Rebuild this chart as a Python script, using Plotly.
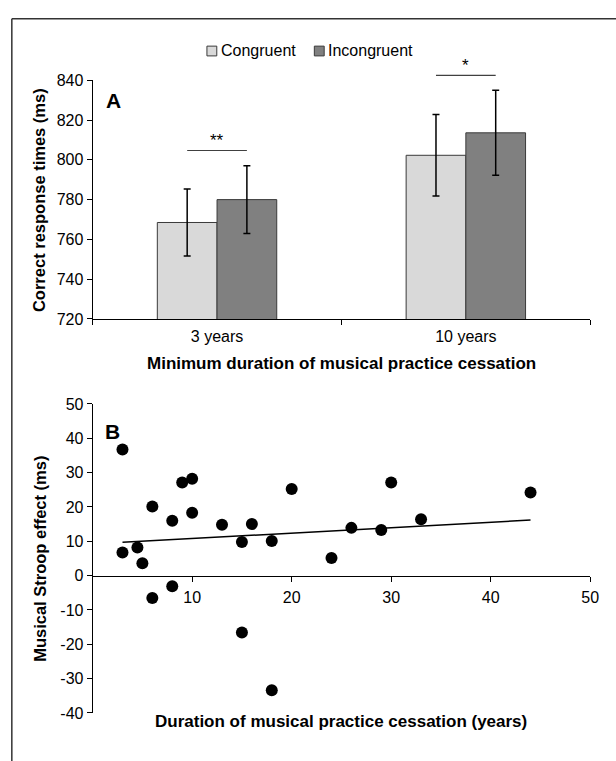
import numpy as np
import plotly.graph_objects as go

# ---------------- Panel A data ----------------
categories = ["3 years", "10 years"]
series_names = ["Congruent", "Incongruent"]
congruent = [768.5, 802.3]
congruent_err = [16.8, 20.5]
incongruent = [780.0, 813.6]
incongruent_err = [17.0, 21.4]
sig_labels = ["**", "*"]
sig_line_values = [804.7, 842.5]
sig_text_values = [809.8, 847.6]
a_yticks = [720, 740, 760, 780, 800, 820, 840]

# ---------------- Panel B data ----------------
years = [3, 3, 4.5, 5, 6, 6, 8, 8, 9, 10, 10, 13, 15, 15, 16, 18, 18, 20, 24, 26, 29, 30, 33, 44]
stroop = [36.7, 6.7, 8.2, 3.6, 20.1, -6.5, 16.0, -3.1, 27.1, 28.2, 18.3, 14.8, 9.8, -16.6,
          15.0, 10.1, -33.4, 25.2, 5.1, 13.9, 13.3, 27.1, 16.4, 24.2]
b_yticks = [-40, -30, -20, -10, 0, 10, 20, 30, 40, 50]
b_yticktext = ["-40", "-30", "-20", "-10", "0", "10", "20", "30", "40", "50"]
b_xticks = [10, 20, 30, 40, 50]

FONT = "Liberation Sans, Arial, sans-serif"
CONG_COLOR = "#d9d9d9"
INCONG_COLOR = "#808080"
EDGE = "#3a3a3a"

FW, FH = 616, 761


def px(p):
    return p / FW


def py(p):
    return 1 - p / FH


x_dom = [px(94), px(599)]
a_dom = [py(318), py(74)]
b_dom = [py(721), py(405)]
A_RANGE = [720, 840]
B_RANGE = [-40, 50]
BARGAP = 0.52


def a_to_paper(v):
    return a_dom[0] + (v - A_RANGE[0]) / (A_RANGE[1] - A_RANGE[0]) * (a_dom[1] - a_dom[0])


def b_to_paper(v):
    return b_dom[0] + (v - B_RANGE[0]) / (B_RANGE[1] - B_RANGE[0]) * (b_dom[1] - b_dom[0])


fig = go.Figure()

fig.add_trace(go.Bar(
    x=categories, y=congruent, name=series_names[0],
    marker=dict(color=CONG_COLOR, line=dict(color=EDGE, width=1)),
    error_y=dict(type="data", array=congruent_err, color="black", thickness=1.5, width=3.5),
    xaxis="x", yaxis="y", showlegend=False,
))
fig.add_trace(go.Bar(
    x=categories, y=incongruent, name=series_names[1],
    marker=dict(color=INCONG_COLOR, line=dict(color=EDGE, width=1)),
    error_y=dict(type="data", array=incongruent_err, color="black", thickness=1.5, width=3.5),
    xaxis="x", yaxis="y", showlegend=False,
))

# Panel B scatter + linear fit
fig.add_trace(go.Scatter(
    x=years, y=stroop, mode="markers",
    marker=dict(color="black", size=12),
    showlegend=False, xaxis="x2", yaxis="y2",
))
slope, intercept = np.polyfit(years, stroop, 1)
fit_x = [min(years), max(years)]
fig.add_trace(go.Scatter(
    x=fit_x, y=[slope * v + intercept for v in fit_x], mode="lines",
    line=dict(color="black", width=1.5),
    showlegend=False, xaxis="x2", yaxis="y2",
))

shapes = []
annotations = []
bw = (1 - BARGAP) / 2
for i, (lab, lv, tv) in enumerate(zip(sig_labels, sig_line_values, sig_text_values)):
    shapes.append(dict(type="line", xref="x", yref="paper",
                       x0=i - bw / 2, x1=i + bw / 2,
                       y0=a_to_paper(lv), y1=a_to_paper(lv),
                       line=dict(color="#404040", width=1.2)))
    annotations.append(dict(xref="x", yref="paper", x=i, y=a_to_paper(tv),
                            text=lab, showarrow=False, xanchor="center", yanchor="middle",
                            font=dict(family=FONT, size=17, color="black")))

# custom legend (small squares with labels)
legend_items = [(series_names[0], CONG_COLOR, 210), (series_names[1], INCONG_COLOR, 319)]
for name, col, x0 in legend_items:
    shapes.append(dict(type="rect", xref="paper", yref="paper",
                       x0=px(x0), x1=px(x0 + 10), y0=py(49), y1=py(39),
                       fillcolor=col, line=dict(color=EDGE, width=1)))
    annotations.append(dict(xref="paper", yref="paper", x=px(x0 + 12), y=py(43),
                            text=name, showarrow=False, xanchor="left", yanchor="middle",
                            font=dict(family=FONT, size=16, color="black")))

# outer frame (top and left edges visible)
shapes.append(dict(type="line", xref="paper", yref="paper",
                   x0=px(12), x1=1.05, y0=py(11), y1=py(11),
                   line=dict(color="#333333", width=1.5)))
shapes.append(dict(type="line", xref="paper", yref="paper",
                   x0=px(12), x1=px(12), y0=py(11), y1=-0.05,
                   line=dict(color="#333333", width=1.5)))

# panel letters
annotations.append(dict(xref="paper", yref="paper", x=px(115), y=py(95), text="<b>A</b>",
                        showarrow=False, xanchor="center", yanchor="middle",
                        font=dict(family=FONT, size=21, color="black")))
annotations.append(dict(xref="paper", yref="paper", x=px(114), y=py(433), text="<b>B</b>",
                        showarrow=False, xanchor="center", yanchor="middle",
                        font=dict(family=FONT, size=21, color="black")))

# axis titles
ytitle_font = dict(family=FONT, size=16.5, color="black")
xtitle_font = dict(family=FONT, size=17, color="black")
annotations.append(dict(xref="paper", yref="paper", x=px(39), y=(a_dom[0] + a_dom[1]) / 2,
                        text="<b>Correct response times (ms)</b>", textangle=-90,
                        showarrow=False, xanchor="center", yanchor="middle", font=ytitle_font))
annotations.append(dict(xref="paper", yref="paper", x=(x_dom[0] + x_dom[1]) / 2, y=py(364),
                        text="<b>Minimum duration of musical practice cessation</b>",
                        showarrow=False, xanchor="center", yanchor="middle", font=xtitle_font))
annotations.append(dict(xref="paper", yref="paper", x=px(41), y=(b_dom[0] + b_dom[1]) / 2,
                        text="<b>Musical Stroop effect (ms)</b>", textangle=-90,
                        showarrow=False, xanchor="center", yanchor="middle", font=ytitle_font))
annotations.append(dict(xref="paper", yref="paper", x=(x_dom[0] + x_dom[1]) / 2, y=py(730),
                        text="<b>Duration of musical practice cessation (years)</b>",
                        showarrow=False, xanchor="center", yanchor="middle", font=xtitle_font))

tick_font = dict(family=FONT, size=16, color="black")
axis_common = dict(showgrid=False, zeroline=False, showline=True, linecolor="black",
                   linewidth=1, ticks="outside", ticklen=5, tickcolor="black",
                   tickfont=tick_font)

fig.update_layout(
    width=FW, height=FH,
    margin=dict(l=0, r=0, t=0, b=0),
    paper_bgcolor="white", plot_bgcolor="white",
    font=dict(family=FONT, color="black"),
    barmode="group", bargap=BARGAP, bargroupgap=0,
    showlegend=False,
    xaxis=dict(domain=x_dom, anchor="y", type="category", range=[-0.5, 1.5],
               tickson="boundaries", ticklabelstandoff=3, **axis_common),
    yaxis=dict(domain=a_dom, anchor="x", range=A_RANGE, tickvals=a_yticks, **axis_common),
    xaxis2=dict(domain=x_dom, anchor="free", position=b_to_paper(0), range=[0, 50],
                tickvals=b_xticks, ticklabelstandoff=2, **axis_common),
    yaxis2=dict(domain=b_dom, anchor="x2", range=B_RANGE, tickvals=b_yticks,
                ticktext=b_yticktext, **axis_common),
    shapes=shapes,
    annotations=annotations,
)

fig.write_html("out.html",
               config={"displayModeBar": False},
               post_script="document.body.style.margin='0';document.body.style.overflow='hidden';")
